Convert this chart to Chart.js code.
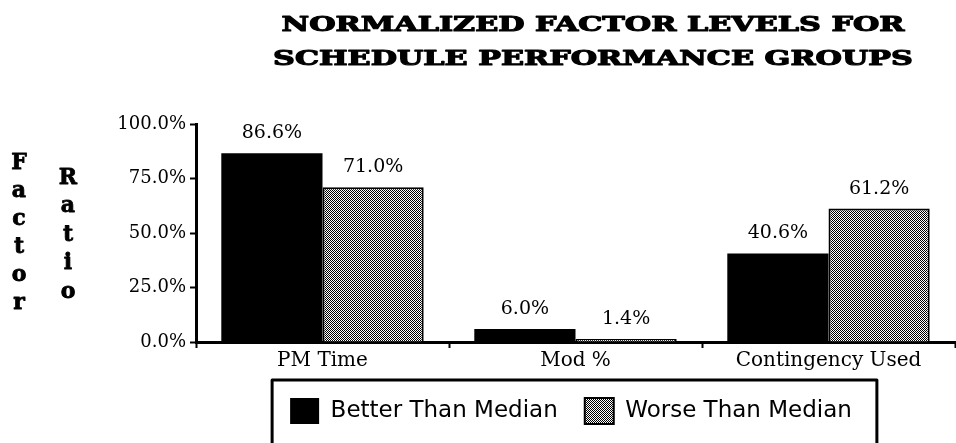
<!DOCTYPE html>
<html lang="en">
<head>
<meta charset="UTF-8">
<title>Normalized Factor Levels for Schedule Performance Groups</title>
<style>
    body { margin: 0; background: #fff; }
    #wrap { width: 956px; height: 443px; }
</style>
<script src="https://cdn.jsdelivr.net/npm/chart.js"></script>
</head>
<body>
<div id="wrap"><canvas id="chart" width="956" height="443"></canvas></div>
<script>
// chart data
const titleLines = ['NORMALIZED FACTOR LEVELS FOR', 'SCHEDULE PERFORMANCE GROUPS'];
const categories = ['PM Time', 'Mod %', 'Contingency Used'];
const seriesNames = ['Better Than Median', 'Worse Than Median'];
const betterValues = [86.6, 6.0, 40.6];
const worseValues = [71.0, 1.4, 61.2];
const yTicks = [0, 25, 50, 75, 100];
const axisWords = ['Factor', 'Ratio'];

const serif = "'DejaVu Serif', 'Liberation Serif', serif";
const sans = "'DejaVu Sans', 'Liberation Sans', sans-serif";

// grey dither used for the second series
function makeDither() {
    const c = document.createElement('canvas');
    c.width = 2;
    c.height = 2;
    const g = c.getContext('2d');
    g.fillStyle = '#fff';
    g.fillRect(0, 0, 2, 2);
    g.fillStyle = '#000';
    g.fillRect(0, 0, 1, 1);
    g.fillRect(1, 1, 1, 1);
    return g.createPattern(c, 'repeat');
}

// title, stacked axis title, value labels, legend frame
const decorations = {
    id: 'decorations',
    afterLayout(chart) {
        // the original legend sits right of centre, under the plot
        chart.legend.left += 139;
    },
    afterDatasetsDraw(chart) {
        const ctx = chart.ctx;
        ctx.save();
        ctx.fillStyle = '#000';
        ctx.font = '19px ' + serif;
        ctx.textAlign = 'center';
        ctx.textBaseline = 'alphabetic';
        chart.data.datasets.forEach((ds, i) => {
            chart.getDatasetMeta(i).data.forEach((bar, j) => {
                ctx.fillText(ds.data[j].toFixed(1) + '%', bar.x, bar.y - 15);
            });
        });
        ctx.restore();
    },
    afterDraw(chart) {
        const ctx = chart.ctx;
        ctx.save();
        ctx.fillStyle = '#000';
        ctx.strokeStyle = '#000';

        // title, widened to the old typeface's width and thickened
        ctx.font = 'bold 26px ' + serif;
        ctx.textAlign = 'center';
        ctx.textBaseline = 'alphabetic';
        ctx.lineWidth = 1.4;
        ctx.lineJoin = 'round';
        const stretch = 623 / ctx.measureText(titleLines[0]).width;
        titleLines.forEach((line, i) => {
            ctx.save();
            ctx.translate(593, 31 + i * 34);
            ctx.scale(stretch, 0.8);
            ctx.fillText(line, 0, 0);
            ctx.strokeText(line, 0, 0);
            ctx.restore();
        });

        // "Factor" "Ratio" written letter by letter
        ctx.font = 'bold 22px ' + serif;
        ctx.textBaseline = 'middle';
        ctx.lineWidth = 0.8;
        [...axisWords[0]].forEach((ch, i) => {
            ctx.fillText(ch, 19, 163 + i * 28);
            ctx.strokeText(ch, 19, 163 + i * 28);
        });
        [...axisWords[1]].forEach((ch, i) => {
            ctx.fillText(ch, 68, 178 + i * 28.5);
            ctx.strokeText(ch, 68, 178 + i * 28.5);
        });

        // frame round the legend
        const hb = chart.legend.legendHitBoxes;
        if (hb && hb.length) {
            const last = hb[hb.length - 1];
            const left = hb[0].left - 18;
            const right = last.left + last.width + 25;
            const top = hb[0].top - 18;
            ctx.lineWidth = 3;
            ctx.strokeRect(left, top, right - left, chart.height + 10 - top);
        }
        ctx.restore();
    }
};

const ctx = document.getElementById('chart').getContext('2d');

new Chart(ctx, {
    type: 'bar',
    data: {
        labels: categories,
        datasets: [
            {
                label: seriesNames[0],
                data: betterValues,
                backgroundColor: '#000',
                borderWidth: 0
            },
            {
                label: seriesNames[1],
                data: worseValues,
                backgroundColor: makeDither(),
                borderColor: '#000',
                borderWidth: 2
            }
        ]
    },
    options: {
        responsive: false,
        animation: false,
        categoryPercentage: 0.8,
        barPercentage: 1.0,
        layout: {
            padding: { left: 48, right: 1, top: 124, bottom: 9 }
        },
        scales: {
            x: {
                border: { display: true, color: '#000', width: 3 },
                grid: {
                    drawOnChartArea: false,
                    offset: true,
                    tickLength: 6,
                    tickColor: '#000',
                    tickWidth: 2
                },
                ticks: {
                    color: '#000',
                    padding: 1,
                    font: { family: serif, size: 20 }
                },
                afterFit(scale) { scale.height = 29; }
            },
            y: {
                min: 0,
                max: 100,
                afterBuildTicks(scale) {
                    scale.ticks = yTicks.map(v => ({ value: v }));
                },
                border: { display: true, color: '#000', width: 3 },
                grid: {
                    drawOnChartArea: false,
                    tickLength: 6,
                    tickColor: '#000',
                    tickWidth: 2
                },
                ticks: {
                    color: '#000',
                    padding: 4,
                    font: { family: serif, size: 18 },
                    callback: v => v.toFixed(1) + '%'
                },
                afterFit(scale) { scale.width = 148; }
            }
        },
        plugins: {
            legend: {
                position: 'bottom',
                labels: {
                    color: '#000',
                    boxWidth: 29,
                    boxHeight: 26,
                    padding: 27,
                    font: { family: sans, size: 23 }
                }
            },
            tooltip: { enabled: false }
        }
    },
    plugins: [decorations]
});
</script>
</body>
</html>
